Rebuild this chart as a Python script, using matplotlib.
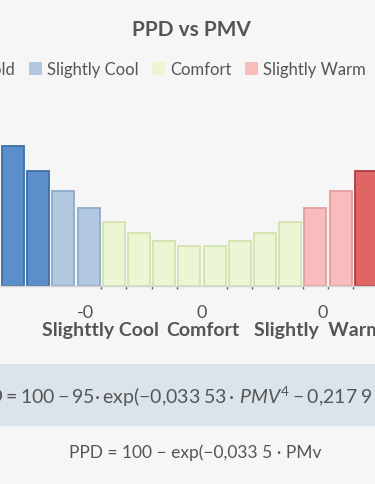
import matplotlib
matplotlib.use("Agg")
import matplotlib.pyplot as plt
from matplotlib.patches import Patch, Rectangle

plt.rcParams['font.family'] = ['Lato', 'DejaVu Sans']
plt.rcParams['mathtext.fontset'] = 'custom'
plt.rcParams['mathtext.rm'] = 'Lato'
plt.rcParams['mathtext.it'] = 'Lato:italic'
plt.rcParams['mathtext.bf'] = 'Lato:bold'

# ============================
#   DATA
# ============================

categories = ["Cold", "Slightly Cool", "Comfort", "Slightly Warm", "Warm"]
fill_colors = ["#5b8fcb", "#b2c8e0", "#ecf5d4", "#f9bcbc", "#e06666"]
edge_colors = ["#3f6fa5", "#8eaacb", "#d3e4ad", "#e59e9e", "#a93e3e"]

# PPD value per bar and the zone each bar belongs to
ppd_values = [34.9, 28.7, 23.75, 19.6, 16.0, 13.25, 11.25, 9.9,
              9.9, 11.25, 13.25, 16.0, 19.6, 23.75, 28.7, 34.9]
bar_zone = [0, 0, 1, 1, 2, 2, 2, 2, 2, 2, 2, 2, 3, 3, 4, 4]

tick_values = [2.86, 7.5, 12.3]
tick_labels = ["-0", "0", "0"]
zone_labels = ["Slighttly Cool", "Comfort", "Slightly  Warm"]

formula = (r"$PPD = 100 - 95 \cdotp \mathrm{exp}(-0{,}033\;53 \,\cdotp\, PMV^4"
           r" - 0{,}217\;9 \,\cdotp\, PMV^2)$")
formula_short = "PPD = 100 \u2212 exp(\u22120,033 5 \u00b7 PMv"

TEXT = "#555555"
BG = "#f6f6f7"

# ============================
#   FIGURE
# ============================

W, H = 375, 485
fig = plt.figure(figsize=(W / 100, H / 100), dpi=100)
fig.patch.set_facecolor(BG)

ax = fig.add_axes([0, (H - 287) / H, 1, 187 / H])
ax.set_facecolor("none")

xs = list(range(len(ppd_values)))
ax.bar(xs, ppd_values, width=0.87,
       color=[fill_colors[z] for z in bar_zone],
       edgecolor=[edge_colors[z] for z in bar_zone], linewidth=1.3, zorder=2)

ax.set_xlim(-0.516, 14.365)
ax.set_ylim(0, 46.75)

for s in ["top", "right", "left"]:
    ax.spines[s].set_visible(False)
ax.spines["bottom"].set_color("#d4d4d4")
ax.spines["bottom"].set_linewidth(1)
ax.set_yticks([])

ax.set_xticks(tick_values)
ax.set_xticklabels(tick_labels, fontsize=13, color=TEXT)
ax.tick_params(axis="x", length=0, pad=13)
ax.set_xticks([3.5, 4.5, 5.5, 6.5, 8.5, 9.5, 10.5, 11.5, 12.5, 13.5], minor=True)
ax.tick_params(axis="x", which="minor", length=2, width=1, color="#666666")

zone_label_x = [3.48, 7.52, 12.1]
for lx, lab in zip(zone_label_x, zone_labels):
    ax.text(lx, -0.23, lab, transform=ax.get_xaxis_transform(),
            ha="center", va="center", fontsize=14, fontweight="bold", color=TEXT)

# title and legend
fig.text(191 / W, 1 - 30 / H, "PPD vs PMV", ha="center", va="center",
         fontsize=15, fontweight="bold", color=TEXT)

handles = [Patch(facecolor=fill_colors[i], edgecolor="none") for i in range(len(categories))]
leg = fig.legend(handles, categories, loc="center", ncol=5,
                 bbox_to_anchor=(203 / W, 1 - 70 / H), frameon=False,
                 fontsize=12, handlelength=0.8, handleheight=0.8,
                 handletextpad=0.3, columnspacing=0.8, labelcolor=TEXT)

# formula band
fig.patches.append(Rectangle((0, (H - 427) / H), 1, 62 / H, transform=fig.transFigure,
                             facecolor="#dce4eb", edgecolor="none", zorder=0))
fig.text(-33 / W, 1 - 397 / H, formula, ha="left", va="center",
         fontsize=14, color=TEXT)

fig.text(195 / W, 1 - 453 / H, formula_short, ha="center", va="center",
         fontsize=12.5, color=TEXT)

fig.savefig("out.png", dpi=100, facecolor=BG)
